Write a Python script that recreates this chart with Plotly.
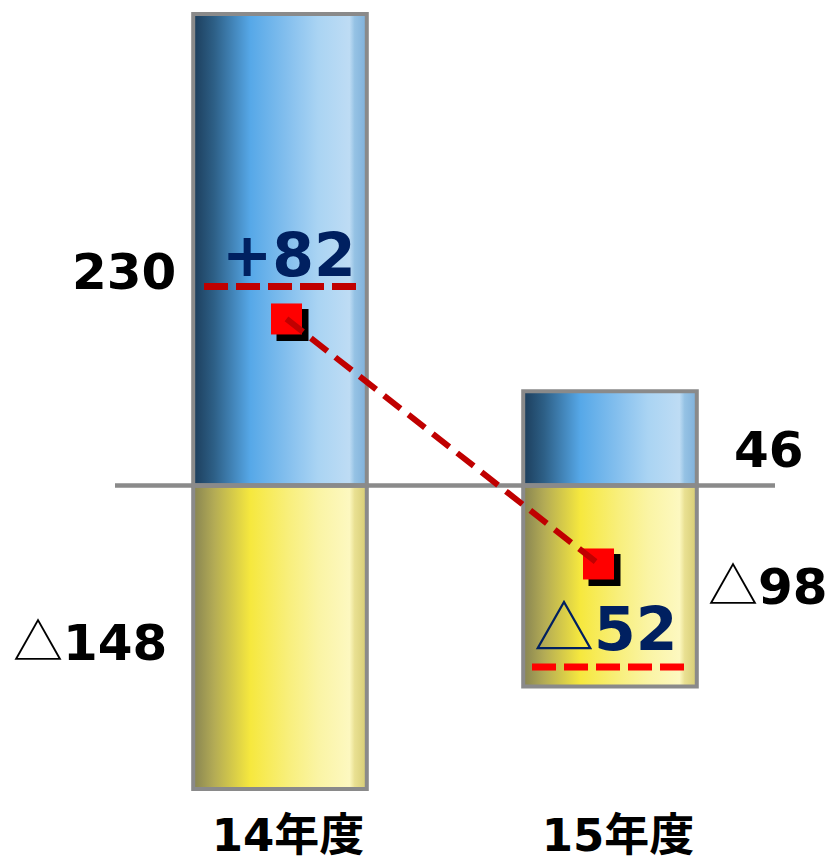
import plotly.graph_objects as go

# ---------------- data ----------------
categories = ["14年度", "15年度"]
positive = [230, 46]
negative = [-148, -98]
net = [82, -52]

# ---------------- geometry (layout only) ----------------
W, HF = 833, 863
B = 58                      # bottom margin for category labels
H = HF - B                  # plot-area height

PXU = 2.0503                # px per unit, primary y
ZERO = 485.6                # px of zero line (from top)
yrange = [-(H - ZERO) / PXU, ZERO / PXU]
CATPX, CAT0 = 330.0, 280.0
xrange = [-CAT0 / CATPX, (W - CAT0) / CATPX]
BAR_W = 0.526

# net-line axes (secondary scale)
NPXU, NZERO = 1.8284, 468.9
y_net = [-(H - NZERO) / NPXU, NZERO / NPXU]
NXPX, NX0 = 312.0, 286.5
x_net = [-NX0 / NXPX, (W - NX0) / NXPX]
SH = 6.0                    # shadow offset in px
x_sh = [x_net[0] - SH / NXPX, x_net[1] - SH / NXPX]
y_sh = [y_net[0] + SH / NPXU, y_net[1] + SH / NPXU]

BLUE = [[0.0, "#1c3d5b"], [0.12, "#2d5f86"], [0.33, "#56a8e8"],
        [0.55, "#86c0ee"], [0.72, "#aad4f3"], [0.9, "#bedcf4"],
        [0.93, "#95c2e4"], [1.0, "#7fb0da"]]
YELLOW = [[0.0, "#878452"], [0.12, "#b3ab55"], [0.33, "#f6e83e"],
          [0.55, "#f8ef7c"], [0.72, "#faf4a4"], [0.9, "#fdf8c0"],
          [0.93, "#e9e092"], [1.0, "#d6cc74"]]

TRI = "<span style='font-family:Noto Sans CJK JP;font-weight:normal'>△</span>"


def fmt(v, sign=False):
    if v < 0:
        return TRI + str(abs(v))
    return ("+" if sign else "") + str(v)


def px(xp):
    return xp / W


def py(yp):
    return (H - yp) / H


fig = go.Figure()

# gradient fills of the bars
for i, cat in enumerate(categories):
    for vals, cs in ((positive, BLUE), (negative, YELLOW)):
        v = vals[i]
        fig.add_trace(go.Scatter(
            x=[i - BAR_W / 2, i + BAR_W / 2, i + BAR_W / 2, i - BAR_W / 2, i - BAR_W / 2],
            y=[0, 0, v, v, 0],
            fill="toself", mode="none",
            fillgradient=dict(type="horizontal", colorscale=cs),
            hoverinfo="skip", showlegend=False))

# zero line
fig.add_trace(go.Scatter(x=[-0.5, len(categories) - 0.5], y=[0, 0], mode="lines",
                         line=dict(color="#8a8a8a", width=4.5),
                         showlegend=False, hoverinfo="skip"))

# bar outlines (overlay axes with identical ranges, drawn above the fills)
for vals in (positive, negative):
    fig.add_trace(go.Bar(
        x=list(range(len(categories))), y=vals, width=BAR_W,
        marker=dict(color="rgba(0,0,0,0)", line=dict(color="#8a8a8a", width=4)),
        xaxis="x2", yaxis="y2", showlegend=False, hoverinfo="skip"))

# net markers: shadow
fig.add_trace(go.Scatter(x=list(range(len(categories))), y=net, mode="markers",
                         marker=dict(symbol="square", size=32, color="#000000"),
                         xaxis="x3", yaxis="y3", showlegend=False, hoverinfo="skip"))
# net markers
fig.add_trace(go.Scatter(x=list(range(len(categories))), y=net, mode="markers",
                         marker=dict(symbol="square", size=31, color="#ff0000"),
                         xaxis="x4", yaxis="y4", showlegend=False))
# net dashed line (above markers)
fig.add_trace(go.Scatter(x=list(range(len(categories))), y=net, mode="lines",
                         line=dict(color="#c00000", width=6, dash="21px,10px"),
                         xaxis="x4", yaxis="y4", showlegend=False, hoverinfo="skip"))

FONT = "DejaVu Sans, Noto Sans CJK JP, sans-serif"

ann = []
# totals
ann.append(dict(text=fmt(positive[0]), x=px(124), y=py(272), color="#000000", size=50, ys=0))
ann.append(dict(text=fmt(negative[0]), x=px(90), y=py(644), color="#000000", size=50, ys=6))
ann.append(dict(text=fmt(positive[1]), x=px(769), y=py(450), color="#000000", size=50, ys=0))
ann.append(dict(text=fmt(negative[1]), x=px(768), y=py(587), color="#000000", size=50, ys=5))
# net labels
ann.append(dict(text=fmt(net[0], sign=True), x=px(289), y=py(255), color="#002060", size=60, ys=0))
ann.append(dict(text=fmt(net[1], sign=True), x=px(606), y=py(630), color="#002060", size=60, ys=7))

for a in ann:
    fig.add_annotation(text=a["text"], x=a["x"], y=a["y"], xref="paper", yref="paper",
                       showarrow=False, xanchor="center", yanchor="middle", yshift=a["ys"],
                       font=dict(family=FONT, size=a["size"], color=a["color"], weight="bold"))

# dashed underlines of the net labels
fig.add_shape(type="line", xref="paper", yref="paper", x0=px(204), x1=px(356),
              y0=py(286.5), y1=py(286.5), line=dict(color="#c00000", width=7, dash="24px,8px"))
fig.add_shape(type="line", xref="paper", yref="paper", x0=px(532), x1=px(684),
              y0=py(667), y1=py(667), line=dict(color="#ff0000", width=7, dash="24px,8px"))

hidden = dict(visible=False, fixedrange=True)
fig.update_layout(
    width=W, height=HF,
    margin=dict(l=0, r=0, t=0, b=B, autoexpand=False),
    paper_bgcolor="white", plot_bgcolor="white",
    barmode="relative",
    showlegend=False,
    xaxis=dict(range=xrange, tickvals=list(range(len(categories))), ticktext=categories,
               showgrid=False, zeroline=False, showline=False, ticks="",
               automargin=False,
               ticklabelshift=8, ticklabelstandoff=0,
               tickfont=dict(family=FONT, size=45, color="#000000", weight="bold")),
    yaxis=dict(range=yrange, visible=False, automargin=False),
    xaxis2=dict(range=xrange, overlaying="x", **hidden),
    yaxis2=dict(range=yrange, overlaying="y", **hidden),
    xaxis3=dict(range=x_sh, overlaying="x", **hidden),
    yaxis3=dict(range=y_sh, overlaying="y", **hidden),
    xaxis4=dict(range=x_net, overlaying="x", **hidden),
    yaxis4=dict(range=y_net, overlaying="y", **hidden),
)

fig.write_html("out.html", config={"displayModeBar": False},
               post_script="document.body.style.margin='0';")
